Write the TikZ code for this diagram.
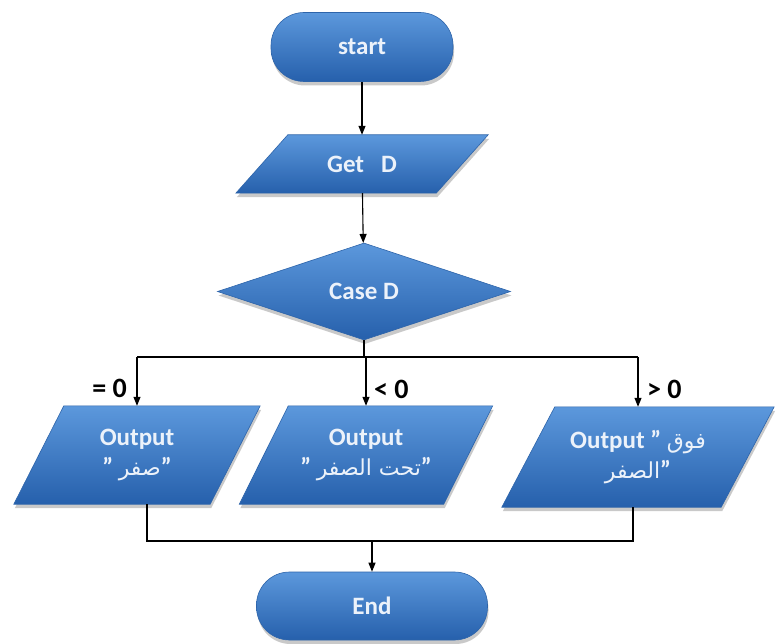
\documentclass[tikz,border=0pt]{standalone}
\usepackage{fontspec}
\setmainfont{Carlito}
\newfontfamily\arabicfont[Script=Arabic]{DejaVu Sans}
\TeXXeTstate=1
\usetikzlibrary{shapes.geometric,arrows.meta,shadows}
\pgfdeclarelayer{background}
\pgfdeclarelayer{paper}
\pgfsetlayers{paper,background,main}
\definecolor{topblue}{RGB}{92,152,220}
\definecolor{botblue}{RGB}{38,96,172}
\definecolor{edgeblue}{RGB}{45,100,170}
\definecolor{txt}{RGB}{236,242,250}
\tikzset{
  fillbase/.style={draw=edgeblue, line width=0.6pt, top color=topblue, bottom color=botblue,
    drop shadow={shadow xshift=1pt, shadow yshift=-4pt, opacity=0.35, fill=black!60}},
  textbase/.style={text=txt, font=\fontsize{25}{30}\selectfont\bfseries, align=center},
  termbox/.style={fillbase, textbase, rectangle, rounded corners=33pt, inner sep=0pt},
  iotext/.style={textbase, rectangle, inner sep=0pt},
  decbox/.style={fillbase, textbase, diamond, inner sep=0pt},
  conn/.style={draw=black, line width=1.1pt, -{Triangle[length=9pt,width=7pt]}},
  plainconn/.style={draw=black, line width=1.1pt},
  cond/.style={font=\fontsize{28}{30}\selectfont\bfseries, text=black, inner sep=0pt}
}
% parallelogram behind a named text node: #1 node name, #2 half slant
\newcommand{\paraback}[2]{%
  \begin{pgfonlayer}{background}
  \path[fillbase] ([xshift=#2]#1.north west) -- ([xshift=#2]#1.north east)
     -- ([xshift=-#2]#1.south east) -- ([xshift=-#2]#1.south west) -- cycle;
  \end{pgfonlayer}}
\newcommand{\ar}[1]{{\arabicfont\fontsize{22}{27}\selectfont\mdseries\beginR #1\endR}}
\begin{document}
\begin{tikzpicture}[x=1pt,y=-1pt]
\begin{pgfonlayer}{paper}
\fill[white] (0,0) rectangle (783,644);
\end{pgfonlayer}
\useasboundingbox (0,0) rectangle (783,644);

\node[termbox, minimum width=182pt, minimum height=69pt] (start) at (362,47) {start};
\node[iotext, minimum width=200pt, minimum height=58pt] (getd) at (362,164) {Get~~~D};
\paraback{getd}{26pt}
\node[decbox, minimum width=293pt, minimum height=97pt] (case) at (364,291.5) {Case D};

\node[iotext, minimum width=196pt, minimum height=98pt] (o1) at (137,455) {Output\\" \ar{صفر}"};
\paraback{o1}{25pt}
\node[iotext, minimum width=204pt, minimum height=98pt] (o2) at (366,455) {Output\\" \ar{تحت الصفر}"};
\paraback{o2}{24.5pt}
\node[iotext, minimum width=219pt, minimum height=100pt] (o3) at (638,457) {Output " \ar{فوق}\\\ar{الصفر}"};
\paraback{o3}{26.5pt}

\node[termbox, minimum width=231pt, minimum height=68pt] (end) at (372,606) {End};

\coordinate (split) at (364,357);
\coordinate (splitL) at (137,357);
\coordinate (splitR) at (638,357);
\coordinate (merge) at (372,541);
\coordinate (mergeL) at (147,541);
\coordinate (mergeR) at (633,541);

\node[cond, anchor=east] (l1) at (127,388) {= 0};
\node[cond, anchor=west] (l2) at (374,389) {< 0};
\node[cond, anchor=west] (l3) at (647,389) {> 0};

\draw[conn] (start) -- (getd);
\draw[conn] (getd) -- (case);
\draw[plainconn] (case.south) -- (split);
\draw[plainconn] (splitL) -- (splitR);
\draw[conn] (splitL) -- (o1.north);
\draw[conn] (split -| o2.north) -- (o2.north);
\draw[conn] (splitR) -- (o3.north);
\draw[plainconn] (o1.south -| mergeL) -- (mergeL) -- (mergeR) -- (o3.south -| mergeR);
\draw[conn] (merge) -- (end);
\end{tikzpicture}
\end{document}
